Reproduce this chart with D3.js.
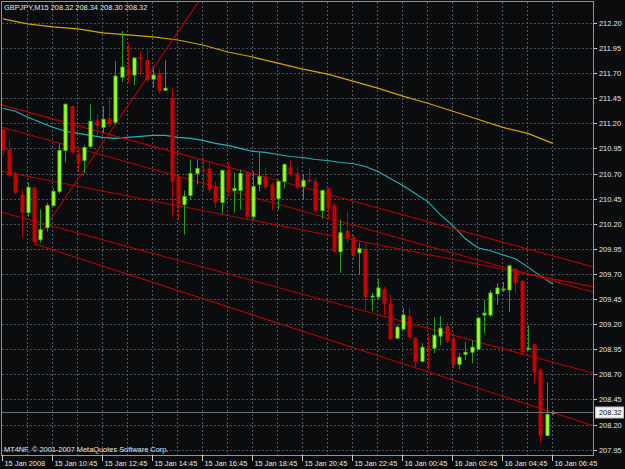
<!DOCTYPE html>
<html>
<head>
<meta charset="utf-8">
<script src="https://cdn.jsdelivr.net/npm/d3@7/dist/d3.min.js"></script>
<style>
body{margin:0;background:#0b0c0e;}
text{font-family:"Liberation Sans",Arial,sans-serif;font-size:7.4px;fill:#e4e6e8;}
</style>
</head>
<body>
<div id="chart"></div>
<script>
var w=625;
var h=469;
var plotL=1.5, plotR=593.5, plotT=1.5, plotB=455;

var symbol="GBPJPY,M15";
var lastQuote=[208.32,208.34,208.30,208.32];
var bidPrice=208.32;
var footer="MT4NF, \u00a9 2001-2007 MetaQuotes Software Corp.";

//OHLC, one value per 15 min bar, first bar = 15 Jan 08:45
var opens=[211.14,210.94,210.70,210.49,210.31,210.56,210.04,210.16,210.38,210.52,
210.93,211.37,210.90,210.83,210.97,211.23,211.16,211.25,211.21,211.66,
211.74,211.68,211.86,211.83,211.64,211.70,211.53,211.45,210.67,210.39,
210.48,210.70,210.74,210.75,210.57,210.41,210.74,210.53,210.53,210.71,
210.27,210.59,210.67,210.59,210.45,210.62,210.76,210.70,210.57,210.64,
210.62,210.33,210.55,210.38,209.92,210.13,210.07,209.91,209.95,209.47,
209.47,209.55,209.40,209.06,209.15,209.28,209.06,208.83,208.96,208.96,
209.08,209.18,209.06,208.80,208.90,208.92,208.95,209.29,209.29,209.50,
209.54,209.54,209.75,209.63,208.95,209.00,208.74,208.09,208.32];
var highs=[211.15,211.04,210.72,210.54,210.61,210.57,210.34,210.41,210.55,211.00,
211.40,211.38,210.96,210.98,211.39,211.29,211.37,211.46,211.82,212.12,
211.99,211.86,211.91,211.93,211.75,211.74,211.83,211.55,210.69,210.53,
210.84,210.84,210.86,210.81,210.62,210.74,210.81,210.71,210.74,210.72,
210.72,210.91,210.76,210.61,210.64,210.80,210.83,210.76,210.69,210.76,
210.66,210.54,210.56,210.41,210.24,210.32,210.09,210.01,209.99,209.51,
209.65,209.57,209.49,209.19,209.36,209.36,209.07,209.01,209.11,209.27,
209.28,209.22,209.11,208.91,209.02,209.04,209.27,209.44,209.54,209.61,
209.62,209.79,209.76,209.64,209.19,209.01,208.76,208.62,208.34];
var lows=[210.88,210.66,210.49,210.06,210.27,210.00,210.01,210.12,210.37,210.50,
210.81,210.89,210.72,210.70,210.95,211.08,211.10,211.16,211.19,211.61,
211.60,211.58,211.68,211.61,211.56,211.49,211.52,210.27,210.24,210.09,
210.44,210.59,210.52,210.51,210.36,210.30,210.47,210.31,210.34,210.24,
210.24,210.52,210.54,210.34,210.34,210.55,210.67,210.54,210.44,210.61,
210.32,210.25,210.25,209.91,209.71,210.01,209.84,209.69,209.34,209.33,
209.45,209.29,209.04,209.05,209.14,209.06,208.77,208.82,208.74,208.91,
208.99,209.01,208.76,208.75,208.84,208.81,208.94,209.11,209.27,209.39,
209.52,209.32,209.51,208.90,208.94,208.61,208.02,208.09,208.30];
var closes=[210.93,210.68,210.51,210.31,210.56,210.02,210.14,210.38,210.52,210.93,
211.39,210.91,210.82,210.96,211.22,211.17,211.24,211.19,211.67,211.76,
211.68,211.85,211.84,211.63,211.68,211.52,211.55,210.62,210.39,210.47,
210.70,210.75,210.72,210.54,210.41,210.73,210.54,210.55,210.70,210.27,
210.57,210.67,210.56,210.45,210.62,210.79,210.69,210.56,210.63,210.62,
210.33,210.53,210.35,209.92,210.11,210.06,209.89,209.95,209.47,209.48,
209.56,209.40,209.05,209.17,209.29,209.07,208.82,208.97,208.95,209.09,
209.16,209.03,208.79,208.87,208.92,208.97,209.26,209.31,209.51,209.56,
209.55,209.78,209.61,208.92,208.96,208.72,208.09,208.30,208.32];

//slow MA read every 4 bars, fast MA every 2 bars
var slowMA=[212.24,212.19,212.16,212.14,212.10,212.08,212.06,212.03,211.98,211.91,
211.86,211.80,211.74,211.69,211.62,211.55,211.47,211.40,211.32,211.24,
211.16,211.10,211.00];
var fastMA=[211.35,211.32,211.26,211.21,211.16,211.12,211.10,211.08,211.06,211.05,
211.06,211.07,211.08,211.08,211.06,211.05,211.03,211.00,210.98,210.95,
210.92,210.91,210.89,210.87,210.86,210.84,210.83,210.81,210.80,210.77,
210.72,210.65,210.58,210.50,210.42,210.29,210.18,210.05,209.96,209.93,
209.89,209.85,209.77,209.68,209.60];

//trend lines: two anchors (bar, price); fromLeft = runs in from the left edge
var trendLines=[
 {b1:0,p1:211.38,b2:88,p2:209.88,fromLeft:true},
 {b1:0,p1:211.16,b2:88,p2:209.63,fromLeft:true},
 {b1:0,p1:210.72,b2:88,p2:209.65,fromLeft:true},
 {b1:0,p1:210.31,b2:88,p2:208.82,fromLeft:true},
 {b1:5,p1:210.00,b2:88,p2:208.32,fromLeft:false},
 {b1:5,p1:210.00,b2:30,p2:212.29,fromLeft:false}
];

var priceTicks=[212.20,211.95,211.70,211.45,211.20,210.95,210.70,210.45,210.20,
209.95,209.70,209.45,209.20,208.95,208.70,208.45,208.20,207.95];
var timeLabels=["15 Jan 2008","15 Jan 10:45","15 Jan 12:45","15 Jan 14:45","15 Jan 16:45",
"15 Jan 18:45","15 Jan 20:45","15 Jan 22:45","16 Jan 00:45","16 Jan 02:45",
"16 Jan 04:45","16 Jan 06:45"];

var xScale=d3.scaleLinear().domain([0,88]).range([2.8,552.8]);
var yScale=d3.scaleLinear().domain([207.95,212.20]).range([449.6,22.9]);

var svg=d3.select("#chart").append("svg")
  .attr("width",w).attr("height",h);

svg.append("rect").attr("width",w).attr("height",h).attr("fill","#0b0c0e");

svg.append("clipPath").attr("id","plotClip")
  .append("rect")
  .attr("x",plotL).attr("y",plotT)
  .attr("width",plotR-plotL).attr("height",plotB-plotT);

function drawGrid(){
  var g=svg.append("g").attr("shape-rendering","crispEdges");
  priceTicks.forEach(function(p){
    var y=Math.round(yScale(p))+0.5;
    g.append("line").attr("x1",plotL).attr("x2",plotR).attr("y1",y).attr("y2",y)
      .attr("stroke","#46505b").attr("stroke-dasharray","2,2");
  });
  for(var i=4;i<=88;i+=4){
    var x=Math.round(xScale(i))-0.5;
    g.append("line").attr("x1",x).attr("x2",x).attr("y1",plotT).attr("y2",plotB)
      .attr("stroke","#4e5966").attr("stroke-dasharray","2,2");
  }
}

function drawMAs(){
  var line=d3.line()
    .x(function(d){return xScale(d.bar);})
    .y(function(d){return yScale(d.price);});
  var slow=slowMA.map(function(p,i){return {bar:i*4,price:p};});
  var fast=fastMA.map(function(p,i){return {bar:i*2,price:p};});
  var g=svg.append("g").attr("clip-path","url(#plotClip)");
  g.append("path").datum(slow).attr("d",line)
    .attr("fill","none").attr("stroke","#d2a400").attr("stroke-width",1.2);
  g.append("path").datum(fast).attr("d",line)
    .attr("fill","none").attr("stroke","#1fb3b8").attr("stroke-width",1.1);
}

function drawTrendLines(){
  var g=svg.append("g").attr("clip-path","url(#plotClip)");
  trendLines.forEach(function(t){
    var slope=(t.p2-t.p1)/(t.b2-t.b1);
    var s=t.fromLeft?xScale.invert(plotL):t.b1;
    var e=xScale.invert(plotR);
    g.append("line")
      .attr("x1",xScale(s)).attr("y1",yScale(t.p1+slope*(s-t.b1)))
      .attr("x2",xScale(e)).attr("y2",yScale(t.p1+slope*(e-t.b1)))
      .attr("stroke","#b80000").attr("stroke-width",1.1);
  });
}

function drawCandles(){
  var g=svg.append("g").attr("clip-path","url(#plotClip)");
  for(var i=0;i<opens.length;i++){
    var x=Math.round(xScale(i))+0.5;
    var up=closes[i]>=opens[i];
    g.append("line")
      .attr("x1",x).attr("x2",x)
      .attr("y1",yScale(highs[i])).attr("y2",yScale(lows[i]))
      .attr("stroke",up?"#1f9e1f":"#bf0000").attr("stroke-width",1);
    var top=yScale(Math.max(opens[i],closes[i]));
    var bh=Math.max(1,Math.abs(yScale(opens[i])-yScale(closes[i])));
    if(up){
      g.append("rect").attr("x",x-1.6).attr("y",top).attr("width",3.2).attr("height",bh)
        .attr("fill","#a4ff22").attr("stroke","#3cc800").attr("stroke-width",0.8);
    } else {
      g.append("rect").attr("x",x-2).attr("y",top).attr("width",4).attr("height",bh)
        .attr("fill","#c80000");
    }
  }
}

function drawAxes(){
  var g=svg.append("g").attr("shape-rendering","crispEdges");
  var yb=Math.round(yScale(bidPrice))+0.5;
  g.append("line").attr("x1",plotL).attr("x2",plotR).attr("y1",yb).attr("y2",yb)
    .attr("stroke","#6a6e75");
  g.append("rect").attr("x",plotL).attr("y",plotT)
    .attr("width",plotR-plotL).attr("height",plotB-plotT)
    .attr("fill","none").attr("stroke","#8e949b");

  priceTicks.forEach(function(p){
    var y=Math.round(yScale(p))+0.5;
    g.append("line").attr("x1",plotR).attr("x2",plotR+3).attr("y1",y).attr("y2",y)
      .attr("stroke","#c8cbd0");
    svg.append("text").attr("x",599).attr("y",y+2.7).text(p.toFixed(2));
  });

  svg.append("rect").attr("x",595.5).attr("y",yb-5.5).attr("width",28).attr("height",11)
    .attr("fill","#f2f2f2").attr("stroke","#c0c0c0");
  svg.append("text").attr("x",599).attr("y",yb+2.7).style("fill","#111")
    .text(bidPrice.toFixed(2));

  timeLabels.forEach(function(t,k){
    var x=Math.round(xScale(k*8))-0.5;
    g.append("line").attr("x1",x).attr("x2",x).attr("y1",plotB).attr("y2",plotB+6)
      .attr("stroke","#c8cbd0");
    svg.append("text").attr("x",x+2).attr("y",465.5).text(t);
  });

  svg.append("text").attr("x",4).attr("y",10)
    .text(symbol+"  "+lastQuote.map(function(v){return v.toFixed(2);}).join(" "));
  svg.append("text").attr("x",4).attr("y",452).text(footer);
}

drawGrid();
drawMAs();
drawTrendLines();
drawCandles();
drawAxes();
</script>
</body>
</html>
